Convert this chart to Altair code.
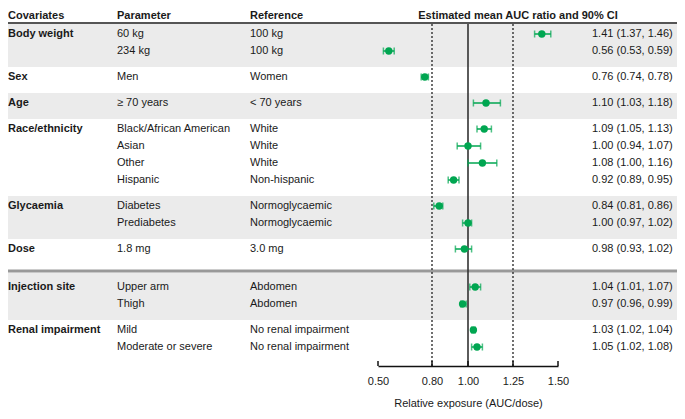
import altair as alt
import pandas as pd

# ---------------- data ----------------
groups = ["Body weight", "Sex", "Age", "Race/ethnicity", "Glycaemia", "Dose",
          "Injection site", "Renal impairment"]
parameters = [["60 kg", "234 kg"], ["Men"], ["≥ 70 years"],
              ["Black/African American", "Asian", "Other", "Hispanic"],
              ["Diabetes", "Prediabetes"], ["1.8 mg"], ["Upper arm", "Thigh"],
              ["Mild", "Moderate or severe"]]
references = [["100 kg", "100 kg"], ["Women"], ["< 70 years"],
              ["White", "White", "White", "Non-hispanic"],
              ["Normoglycaemic", "Normoglycaemic"], ["3.0 mg"], ["Abdomen", "Abdomen"],
              ["No renal impairment", "No renal impairment"]]
ratio = [[1.41, 0.56], [0.76], [1.10], [1.09, 1.00, 1.08, 0.92], [0.84, 1.00], [0.98],
         [1.04, 0.97], [1.03, 1.05]]
ci_low = [[1.37, 0.53], [0.74], [1.03], [1.05, 0.94, 1.00, 0.89], [0.81, 0.97], [0.93],
          [1.01, 0.96], [1.02, 1.02]]
ci_high = [[1.46, 0.59], [0.78], [1.18], [1.13, 1.07, 1.16, 0.95], [0.86, 1.02], [1.02],
           [1.07, 0.99], [1.04, 1.08]]
tick_values = [0.50, 0.80, 1.00, 1.25, 1.50]
dashed_refs = [0.80, 1.25]
solid_refs = [1.00]
header_texts = ["Covariates", "Parameter", "Reference", "Estimated mean AUC ratio and 90% CI"]
axis_title = "Relative exposure (AUC/dose)"
separator_before = "Injection site"

# ---------------- layout / style ----------------
W, H = 669, 358
FONT = "Liberation Sans"
TEXT = "#1a1a1a"
GREEN = "#00A651"
BAND = "#EBEBEB"
ROW, PAD_T, PAD_B, SEP = 17, 10, 16, 12
HEADER_LINE = 15

rows, bands = [], []
y0 = HEADER_LINE + 1
sep_y = None
for gi, g in enumerate(groups):
    if g == separator_before:
        sep_y = y0 + SEP / 2
        y0 += SEP
    n = len(parameters[gi])
    top = y0
    for ri in range(n):
        rows.append(dict(
            covariate=g if ri == 0 else "",
            parameter=parameters[gi][ri],
            reference=references[gi][ri],
            ratio=ratio[gi][ri], lo=ci_low[gi][ri], hi=ci_high[gi][ri],
            label=f"{ratio[gi][ri]:.2f} ({ci_low[gi][ri]:.2f}, {ci_high[gi][ri]:.2f})",
            y=top + PAD_T + ROW * ri))
    bottom = top + PAD_T + ROW * (n - 1) + PAD_B
    if g == separator_before:
        top = sep_y + 1.5
    bands.append(dict(y=top, y2=bottom, shaded=(gi % 2 == 0)))
    y0 = bottom

df = pd.DataFrame(rows)
bands_df = pd.DataFrame([b for b in bands if b["shaded"]])

yscale = alt.Scale(domain=[0, H], range=[0, H], nice=False, zero=False)
xscale = alt.Scale(domain=[0.5, 1.5], range=[370, 550], nice=False, zero=False)
xaxis = alt.Axis(values=tick_values, format=".2f", ticks=False, grid=False,
                 domainColor="#111", domainWidth=1.5, labelFont=FONT, labelFontSize=11,
                 labelColor=TEXT, labelPadding=9, labelFlush=False,
                 title=axis_title, titleFont=FONT, titleFontSize=11,
                 titleFontWeight="normal", titleColor=TEXT, titlePadding=11)


def X(field):
    return alt.X(field, type="quantitative", scale=xscale, axis=xaxis)


def Y(field="y"):
    return alt.Y(field, type="quantitative", scale=yscale, axis=None)


band_layer = alt.Chart(bands_df).mark_rect(color=BAND).encode(
    x=alt.value(0), x2=alt.value(W), y=Y("y"), y2="y2:Q")

header_line = alt.Chart(pd.DataFrame({"y": [HEADER_LINE]})).mark_rule(
    color="#555", strokeWidth=2).encode(x=alt.value(0), x2=alt.value(W), y=Y())

sep_line = alt.Chart(pd.DataFrame({"y": [sep_y]})).mark_rule(
    color="#999", strokeWidth=3).encode(x=alt.value(0), x2=alt.value(W), y=Y())

dashed = alt.Chart(pd.DataFrame({"v": dashed_refs})).mark_rule(
    color="#222", strokeWidth=1.3, strokeDash=[2, 2]).encode(
    x=X("v"), y=alt.value(HEADER_LINE + 1), y2=alt.value(H))

solid = alt.Chart(pd.DataFrame({"v": solid_refs})).mark_rule(
    color="#333", strokeWidth=1.6).encode(
    x=X("v"), y=alt.value(HEADER_LINE + 1), y2=alt.value(H))

up_ticks = alt.Chart(pd.DataFrame({"v": tick_values})).mark_rule(
    color="#111", strokeWidth=1.5).encode(
    x=X("v"), y=alt.value(H - 5), y2=alt.value(H))

ci = alt.Chart(df).mark_rule(color=GREEN, strokeWidth=1.5).encode(
    x=X("lo"), x2="hi:Q", y=Y())
cap_lo = alt.Chart(df).mark_tick(orient="vertical", size=7, thickness=1.5, color=GREEN).encode(
    x=X("lo"), y=Y())
cap_hi = alt.Chart(df).mark_tick(orient="vertical", size=7, thickness=1.5, color=GREEN).encode(
    x=X("hi"), y=Y())
points = alt.Chart(df).mark_circle(size=55, color=GREEN, opacity=1).encode(
    x=X("ratio"), y=Y())


def text_col(field, xpx, bold=False):
    return alt.Chart(df).mark_text(
        align="left", baseline="middle", font=FONT, fontSize=11, color=TEXT,
        fontWeight="bold" if bold else "normal").encode(
        x=alt.value(xpx), y=Y(), text=f"{field}:N")


def header(txt, xpx, align="left"):
    return alt.Chart(pd.DataFrame({"t": [txt]})).mark_text(
        align=align, baseline="middle", font=FONT, fontSize=11, color=TEXT,
        fontWeight="bold").encode(x=alt.value(xpx), y=alt.value(7.5), text="t:N")


chart = alt.layer(
    band_layer, header_line, sep_line, dashed, solid, up_ticks,
    ci, cap_lo, cap_hi, points,
    text_col("covariate", 0, bold=True),
    text_col("parameter", 109),
    text_col("reference", 242),
    text_col("label", 584),
    header(header_texts[0], 0),
    header(header_texts[1], 109),
    header(header_texts[2], 242),
    header(header_texts[3], 510, align="center"),
).properties(
    width=W, height=H,
    padding={"left": 0, "right": 0, "top": 0, "bottom": 45},
    autosize=alt.AutoSizeParams(type="none"),
).configure_view(stroke=None)

chart.save("out.html", embed_options={"renderer": "svg", "actions": False})
